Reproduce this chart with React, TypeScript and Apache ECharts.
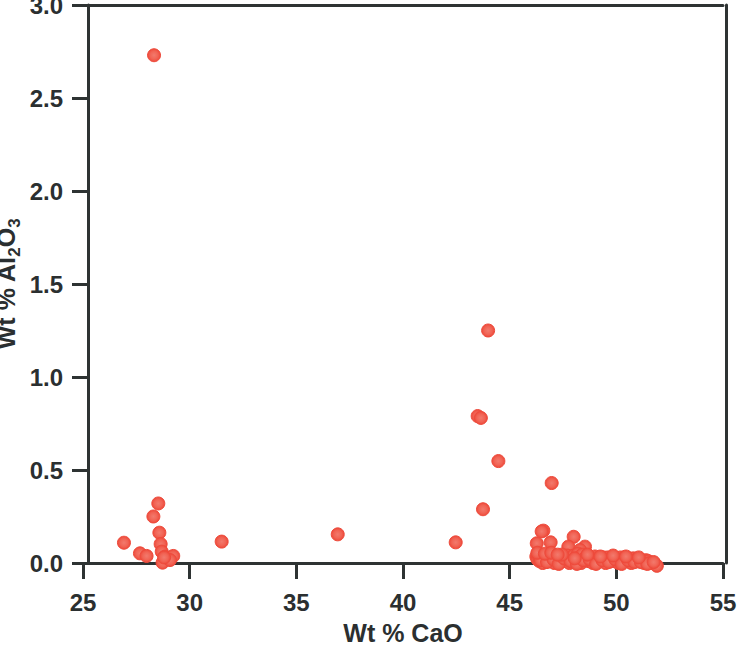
import React, { useEffect, useRef } from "react";
import * as echarts from "echarts";

const xTicks = [25, 30, 35, 40, 45, 50, 55];
const yTicks = [0, 0.5, 1.0, 1.5, 2.0, 2.5, 3.0];

// Wt % CaO values
const caoValues = [
  28.33, 26.92, 28.53, 28.3, 28.58, 28.64, 27.67, 27.98, 28.69, 28.84, 29.23, 28.73, 29.08, 28.8,
  31.5, 36.94, 42.47,
  43.99, 43.5, 43.65, 44.47, 43.75, 46.97,
  46.58, 46.27, 46.92, 48.0, 47.75, 48.53, 48.3, 46.5,
  46.25, 46.3, 46.35, 46.4, 46.5, 46.55, 46.6, 46.7, 46.8, 46.9, 47.0, 47.1, 47.2, 47.35, 47.5,
  47.6, 47.7, 47.8, 47.9, 48.0, 48.1, 48.2, 48.25, 48.35, 48.4, 48.5, 48.6, 48.7, 48.8, 48.9,
  49.0, 49.1, 49.2, 49.3, 49.4, 49.5, 49.6, 49.7, 49.8, 49.9, 50.0, 50.1, 50.2, 50.3, 50.4,
  50.5, 50.6, 50.7, 50.8, 50.9, 51.0, 51.1, 51.2, 51.3, 51.4, 51.5, 51.6, 51.9,
  46.45, 46.75, 47.05, 47.3, 47.55, 47.85, 48.15, 48.45, 48.75, 49.05, 49.35, 49.65, 49.95,
  50.25, 50.55, 50.85, 51.15, 51.45, 51.75, 47.45, 48.05, 48.65, 49.25, 49.85, 50.45, 51.05,
  46.3, 46.65, 46.95, 47.25,
];

// Wt % Al2O3 values
const al2o3Values = [
  2.73, 0.109, 0.32, 0.25, 0.163, 0.102, 0.052, 0.038, 0.061, 0.034, 0.038, 0.002, 0.016, 0.03,
  0.115, 0.154, 0.111,
  1.25, 0.79, 0.78, 0.548, 0.289, 0.43,
  0.174, 0.106, 0.111, 0.141, 0.088, 0.088, 0.07, 0.17,
  0.035, 0.02, 0.04, 0.01, 0.03, 0.0, 0.04, 0.02, 0.035, 0.01, 0.03, 0.0, 0.02, 0.035, 0.01,
  0.03, 0.04, 0.0, 0.02, 0.04, 0.01, 0.05, 0.03, 0.0, 0.045, 0.02, 0.035, 0.01, 0.03, 0.0,
  0.035, 0.02, 0.03, 0.01, 0.03, 0.0, 0.03, 0.02, 0.03, 0.01, 0.025, 0.0, 0.03, 0.02, 0.03,
  0.01, 0.025, 0.0, 0.025, 0.015, 0.02, 0.01, 0.015, 0.0, 0.015, 0.01, 0.0, -0.015,
  0.015, 0.005, 0.02, -0.005, 0.025, 0.01, -0.005, 0.015, 0.02, -0.005, 0.015, 0.005, 0.02,
  -0.005, 0.015, 0.005, 0.005, -0.005, 0.005, 0.045, 0.025, 0.045, 0.035, 0.04, 0.035, 0.03,
  0.055, 0.05, 0.055, 0.045,
];

const AXIS_COLOR = "#2e3333";
const TEXT_COLOR = "#2b2f30";
const FONT = "'Liberation Sans', Arial, Helvetica, sans-serif";

export default function App() {
  const ref = useRef<HTMLDivElement>(null);

  useEffect(() => {
    if (!ref.current) return;
    const chart = echarts.init(ref.current, null, { renderer: "svg" });
    const data = caoValues.map((x, i) => [x, al2o3Values[i]]);
    const lineStyle = { color: AXIS_COLOR, width: 3 };
    chart.setOption({
      animation: false,
      backgroundColor: "#ffffff",
      grid: {
        left: 83,
        right: 30,
        top: 5,
        bottom: 103,
        containLabel: false,
        outerBoundsMode: "none",
      },
      xAxis: [
        {
          type: "value",
          min: xTicks[0],
          max: xTicks[xTicks.length - 1],
          interval: 5,
          position: "bottom",
          splitLine: { show: false },
          axisLine: { show: true, onZero: false, lineStyle },
          axisTick: { show: true, length: 16, inside: false, lineStyle },
          axisLabel: {
            margin: 27,
            color: TEXT_COLOR,
            fontSize: 24,
            fontWeight: "bold",
            fontFamily: FONT,
            formatter: (v: number) => String(v),
          },
          name: "Wt % CaO",
          nameLocation: "middle",
          nameGap: 57,
          nameMoveOverlap: false,
          nameTextStyle: {
            color: TEXT_COLOR,
            fontSize: 25,
            fontWeight: "bold",
            fontFamily: FONT,
          },
        },
        {
          type: "value",
          min: xTicks[0],
          max: xTicks[xTicks.length - 1],
          position: "top",
          splitLine: { show: false },
          axisLine: { show: true, onZero: false, lineStyle },
          axisTick: { show: false },
          axisLabel: { show: false },
        },
      ],
      yAxis: [
        {
          type: "value",
          min: yTicks[0],
          max: yTicks[yTicks.length - 1],
          interval: 0.5,
          position: "left",
          offset: -5,
          splitLine: { show: false },
          axisLine: { show: true, onZero: false, lineStyle },
          axisTick: { show: true, length: 16, inside: false, lineStyle },
          axisLabel: {
            margin: 25,
            color: TEXT_COLOR,
            fontSize: 24,
            fontWeight: "bold",
            fontFamily: FONT,
            formatter: (v: number) => v.toFixed(1),
          },
          name: "{a|Wt % Al}{s|2}{a|O}{s|3}",
          nameLocation: "middle",
          nameRotate: 90,
          nameGap: 65,
          nameMoveOverlap: false,
          nameTextStyle: {
            color: TEXT_COLOR,
            fontFamily: FONT,
            rich: {
              a: {
                fontSize: 25,
                fontWeight: "bold",
                fontFamily: FONT,
                color: TEXT_COLOR,
                lineHeight: 30,
                verticalAlign: "top",
              },
              s: {
                fontSize: 17,
                fontWeight: "bold",
                fontFamily: FONT,
                color: TEXT_COLOR,
                lineHeight: 14,
                verticalAlign: "bottom",
              },
            },
          },
        },
        {
          type: "value",
          min: yTicks[0],
          max: yTicks[yTicks.length - 1],
          position: "right",
          offset: 3,
          splitLine: { show: false },
          axisLine: { show: true, onZero: false, lineStyle },
          axisTick: { show: false },
          axisLabel: { show: false },
        },
      ],
      series: [
        {
          type: "scatter",
          xAxisIndex: 0,
          yAxisIndex: 0,
          data,
          symbol: "circle",
          symbolSize: 13,
          clip: false,
          itemStyle: {
            color: {
              type: "radial",
              x: 0.5,
              y: 0.5,
              r: 0.5,
              colorStops: [
                { offset: 0, color: "#f27a6d" },
                { offset: 0.6, color: "#f16455" },
                { offset: 1, color: "#ee4a3b" },
              ],
            },
            borderColor: "#ee4a3b",
            borderWidth: 1,
            opacity: 1,
          },
        },
      ],
    });
    return () => chart.dispose();
  }, []);

  return (
    <div
      ref={ref}
      style={{ position: "fixed", left: 0, top: 0, width: 753, height: 666 }}
    />
  );
}
